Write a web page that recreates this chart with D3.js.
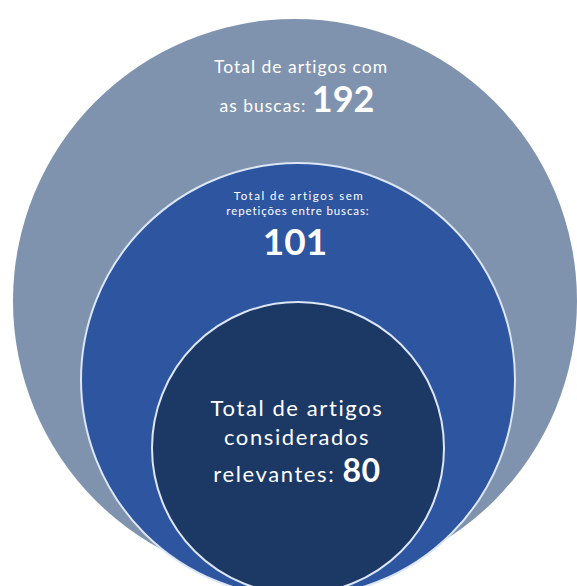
<!DOCTYPE html>
<html>
<head>
<meta charset="utf-8">
<script src="https://cdn.jsdelivr.net/npm/d3@7"></script>
<style>
  html, body { margin: 0; padding: 0; background: #ffffff; }
  svg { display: block; }
  text { font-family: Lato, "Open Sans", sans-serif; fill: #ffffff; }
</style>
</head>
<body>
<script>
// Nested funnel of article counts (outer → inner)
const levels = ["buscas", "sem repetições", "relevantes"];
const counts = [192, 101, 80];
const labelLines = [
  ["Total de artigos com", "as buscas: "],
  ["Total de artigos sem", "repetições entre buscas:", ""],
  ["Total de artigos", "considerados", "relevantes: "]
];
const fills = ["#7f93ae", "#2d549f", "#1f3765"];

const W = 577, H = 586;
const svg = d3.select("body").append("svg").attr("width", W).attr("height", H);

// radius from the count, centre x fixed, circles resting on a shared bottom line
const rScale = d3.scaleLinear().domain([80, 101, 192]).range([146, 217, 282]);
const bottomScale = d3.scaleLinear().domain([80, 101, 192]).range([594, 597, 583]);
const cx = 296;

const data = levels.map((k, i) => ({ key: k, value: counts[i], lines: labelLines[i], fill: fills[i], i }));

const defs = svg.append("defs");
const glow = defs.append("filter").attr("id", "glow").attr("x", "-10%").attr("y", "-10%").attr("width", "120%").attr("height", "120%");
glow.append("feGaussianBlur").attr("in", "SourceGraphic").attr("stdDeviation", 0.6);

svg.append("g").selectAll("circle")
  .data(data)
  .join("circle")
  .attr("cx", d => cx + (d.i === 0 ? -1 : 2))
  .attr("cy", d => bottomScale(d.value) - rScale(d.value))
  .attr("r", d => rScale(d.value))
  .attr("fill", d => d.fill)
  .attr("stroke", d => d.i === 0 ? "none" : "#dbe6f6")
  .attr("stroke-width", 2)
  .attr("filter", "url(#glow)");

// labels
const g = svg.append("g");

// outer
g.append("text").attr("text-anchor", "middle").attr("x", 301).attr("y", 73)
  .style("font-size", "17.5px").style("letter-spacing", "1px").text(data[0].lines[0]);
const l0 = g.append("text").attr("text-anchor", "middle").attr("x", 297).attr("y", 112)
  .style("font-size", "17.5px").style("letter-spacing", "1px");
l0.append("tspan").text(data[0].lines[1]);
l0.append("tspan").style("font-size", "36px").style("font-weight", "bold").style("letter-spacing", "0px").text(data[0].value);

// middle
g.append("text").attr("text-anchor", "middle").attr("x", 299).attr("y", 200)
  .style("font-size", "11.5px").style("letter-spacing", "1.5px").text(data[1].lines[0]);
g.append("text").attr("text-anchor", "middle").attr("x", 298).attr("y", 215)
  .style("font-size", "11.5px").style("letter-spacing", "0.9px").text(data[1].lines[1]);
g.append("text").attr("text-anchor", "middle").attr("x", 295).attr("y", 255)
  .style("font-size", "37px").style("font-weight", "bold").text(data[1].value);

// inner
const innerStyle = sel => sel.attr("text-anchor", "middle").attr("x", 297)
  .style("font-size", "22px").style("letter-spacing", "1.6px");
g.append("text").call(innerStyle).attr("y", 416).text(data[2].lines[0]);
g.append("text").call(innerStyle).attr("y", 445).text(data[2].lines[1]);
const l2 = g.append("text").call(innerStyle).attr("y", 482);
l2.append("tspan").text(data[2].lines[2]);
l2.append("tspan").style("font-size", "32px").style("font-weight", "bold").style("letter-spacing", "0.5px").text(data[2].value);
</script>
</body>
</html>
